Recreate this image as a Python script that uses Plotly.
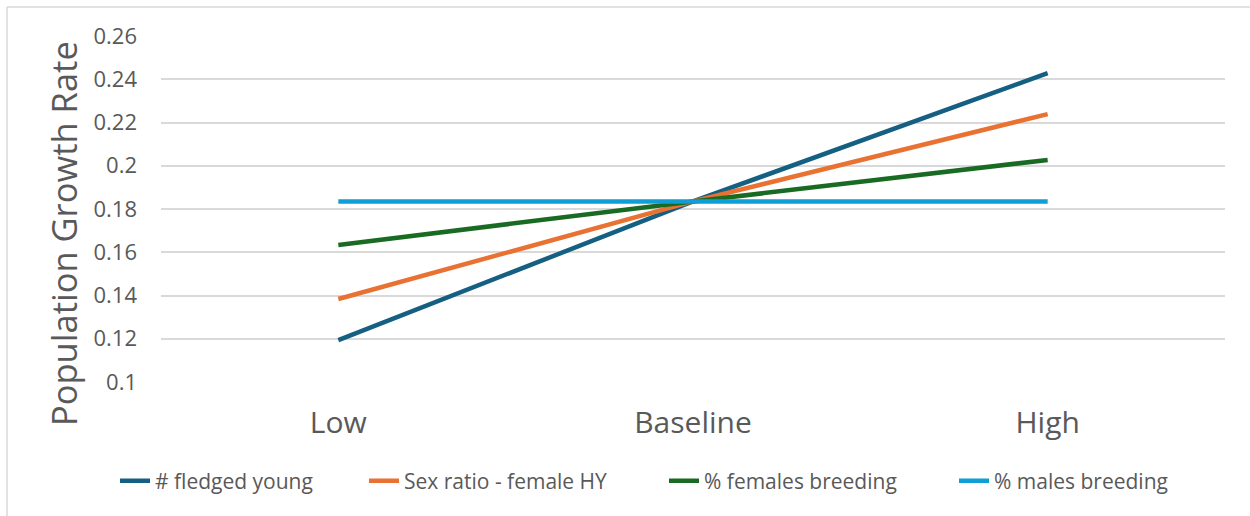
import plotly.graph_objects as go

categories = ["Low", "Baseline", "High"]
fledged_young = [0.1194, 0.1835, 0.2428]
sex_ratio_female_hy = [0.1384, 0.1835, 0.2239]
pct_females_breeding = [0.1634, 0.1835, 0.2027]
pct_males_breeding = [0.1835, 0.1835, 0.1835]

series_names = ["# fledged young", "Sex ratio - female HY", "% females breeding", "% males breeding"]
series_values = [fledged_young, sex_ratio_female_hy, pct_females_breeding, pct_males_breeding]
series_colors = ["#156082", "#E97132", "#196B24", "#0F9ED5"]

y_tickvals = [0.1, 0.12, 0.14, 0.16, 0.18, 0.2, 0.22, 0.24, 0.26]
y_ticktext = ["0.1", "0.12", "0.14", "0.16", "0.18", "0.2", "0.22", "0.24", "0.26"]

W, H = 1250, 516
L, R, T, B = 161, 25, 36, 134
pw, ph = W - L - R, H - T - B

font_family = "Open Sans, Liberation Sans, sans-serif"
txt_color = "#595959"

def px_x(p):
    return (p - L) / pw

def px_y(p):
    return (H - B - p) / ph

legend_ids = ["legend", "legend2", "legend3", "legend4"]
legend_text_starts = [155, 404, 704, 994]

fig = go.Figure()
for name, vals, col, lid in zip(series_names, series_values, series_colors, legend_ids):
    fig.add_trace(go.Scatter(x=categories, y=vals, name=name, mode="lines", legend=lid,
                             line=dict(color=col, width=4.5)))

legend_layout = {}
for lid, ts in zip(legend_ids, legend_text_starts):
    legend_layout[lid] = dict(orientation="h", x=px_x(ts - 40), xanchor="left", y=px_y(481), yanchor="middle",
                              font=dict(size=21, color=txt_color), bgcolor="rgba(0,0,0,0)")

fig.update_layout(
    width=W, height=H,
    margin=dict(l=L, r=R, t=T, b=B, pad=0),
    paper_bgcolor="white", plot_bgcolor="white",
    font=dict(family=font_family, color=txt_color),
    showlegend=True,
    xaxis=dict(type="category", range=[-0.5, 2.5], showgrid=False, zeroline=False, showline=False,
               tickfont=dict(size=30, color=txt_color), ticks="", ticklabelstandoff=20),
    yaxis=dict(range=[0.1, 0.26], tickvals=y_tickvals, ticktext=y_ticktext, showgrid=True,
               gridcolor="#D9D9D9", gridwidth=1.5, zeroline=False, showline=False,
               tickfont=dict(size=22, color=txt_color), ticklabelstandoff=23),
    annotations=[
        dict(text="Population Growth Rate", xref="paper", yref="paper", x=px_x(63), y=px_y(234),
             xanchor="center", yanchor="middle", textangle=-90, showarrow=False,
             font=dict(size=34.5, color=txt_color, family=font_family)),
    ],
    shapes=[
        dict(type="line", xref="paper", yref="paper", x0=px_x(7), x1=px_x(7), y0=px_y(7), y1=px_y(H + 5),
             line=dict(color="#D9D9D9", width=1.5)),
        dict(type="line", xref="paper", yref="paper", x0=px_x(7), x1=px_x(W + 5), y0=px_y(7), y1=px_y(7),
             line=dict(color="#D9D9D9", width=1.5)),
    ],
    **legend_layout,
)

fig.write_html("out.html")
